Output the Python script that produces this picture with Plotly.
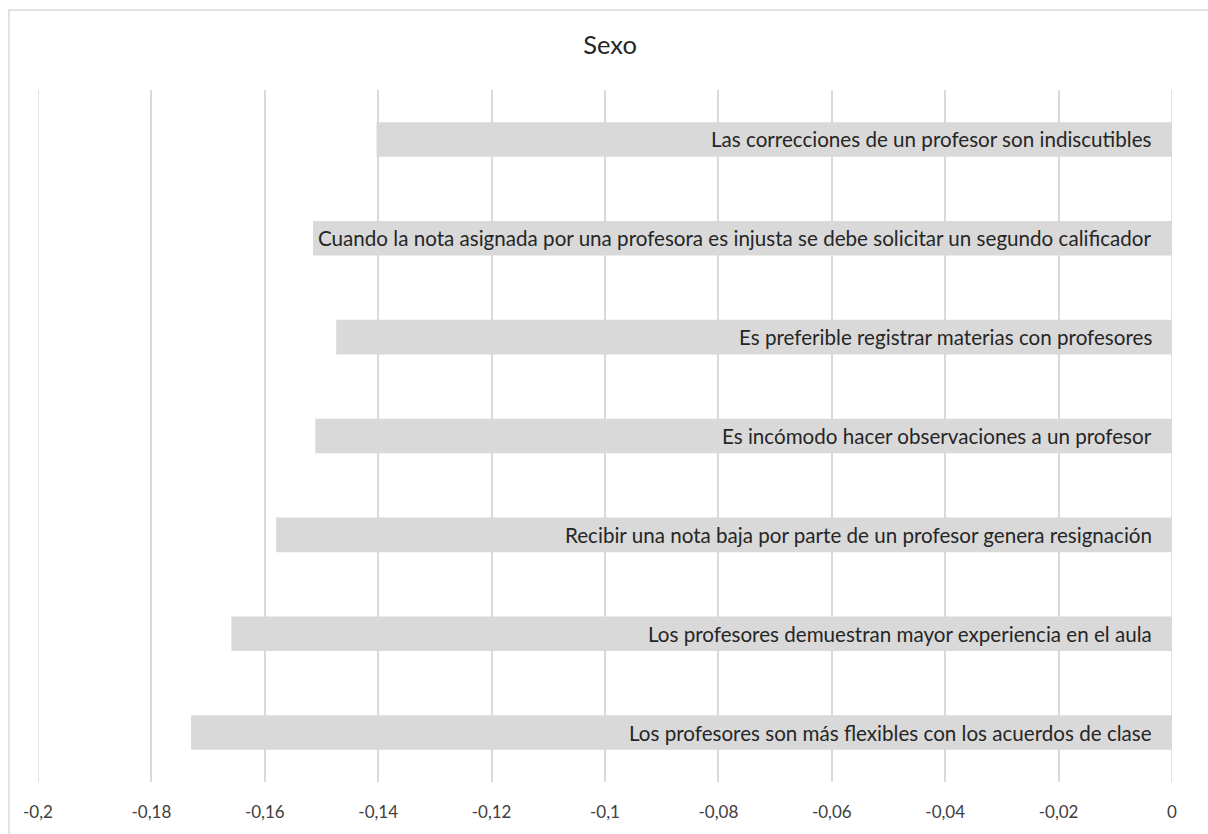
import plotly.graph_objects as go

categories = [
    "Las correcciones de un profesor son indiscutibles",
    "Cuando la nota asignada por una profesora es injusta se debe solicitar un segundo calificador",
    "Es preferible registrar materias con profesores",
    "Es incómodo hacer observaciones a un profesor",
    "Recibir una nota baja por parte de un profesor genera resignación",
    "Los profesores demuestran mayor experiencia en el aula",
    "Los profesores son más flexibles con los acuerdos de clase",
]
values = [-0.1403, -0.1515, -0.1474, -0.1511, -0.158, -0.1659, -0.1730]
tick_vals = [-0.2, -0.18, -0.16, -0.14, -0.12, -0.1, -0.08, -0.06, -0.04, -0.02, 0]
tick_text = ["-0,2", "-0,18", "-0,16", "-0,14", "-0,12", "-0,1", "-0,08", "-0,06", "-0,04", "-0,02", "0"]
title_text = "Sexo"

FONT = "Lato"
GRAY = "#d9d9d9"
W, H = 1208, 834
L, R, T, B = 38, 36.3, 90, 44
pw, ph = W - L - R, H - T - B

fig = go.Figure()

# edge gridlines (plotly hides gridlines lying on the plot-area border)
for tv in (tick_vals[0], tick_vals[-1]):
    fig.add_vline(x=tv, line=dict(color=GRAY, width=1.5), layer="below")

fig.add_trace(go.Bar(
    x=values, y=categories, orientation="h",
    marker=dict(color=GRAY, line=dict(width=0)),
    hoverinfo="skip",
))

for cat in categories:
    fig.add_annotation(
        x=0, y=cat, xref="x", yref="y", text=cat, showarrow=False,
        xanchor="right", yanchor="middle", xshift=-18,
        font=dict(family=FONT, size=20.6, color="#262626"),
    )

fig.add_shape(
    type="rect", xref="paper", yref="paper",
    x0=(9 - L) / pw, x1=(W + 20 - L) / pw,
    y0=-(B + 20) / ph, y1=(H - B - 9) / ph,
    line=dict(color=GRAY, width=1.5), fillcolor="rgba(0,0,0,0)", layer="below",
)

fig.update_layout(
    width=W, height=H,
    margin=dict(l=L, r=R, t=T, b=B, pad=0),
    paper_bgcolor="white", plot_bgcolor="white",
    showlegend=False,
    bargap=0.65,
    title=dict(text=title_text, x=0.505, xanchor="center", y=1 - 45 / H, yanchor="middle",
               yref="container", font=dict(family=FONT, size=25.5, color="#262626")),
    xaxis=dict(
        range=[-0.2, 0], tickvals=tick_vals, ticktext=tick_text,
        showgrid=True, gridcolor=GRAY, gridwidth=1.5,
        zeroline=False, showline=False,
        ticks="outside", ticklen=15, tickcolor="rgba(0,0,0,0)",
        tickfont=dict(family=FONT, size=17, color="#404040"),
    ),
    yaxis=dict(
        autorange="reversed", showticklabels=False, showgrid=False,
        zeroline=False, showline=False,
    ),
)

fig.write_html("out.html")
